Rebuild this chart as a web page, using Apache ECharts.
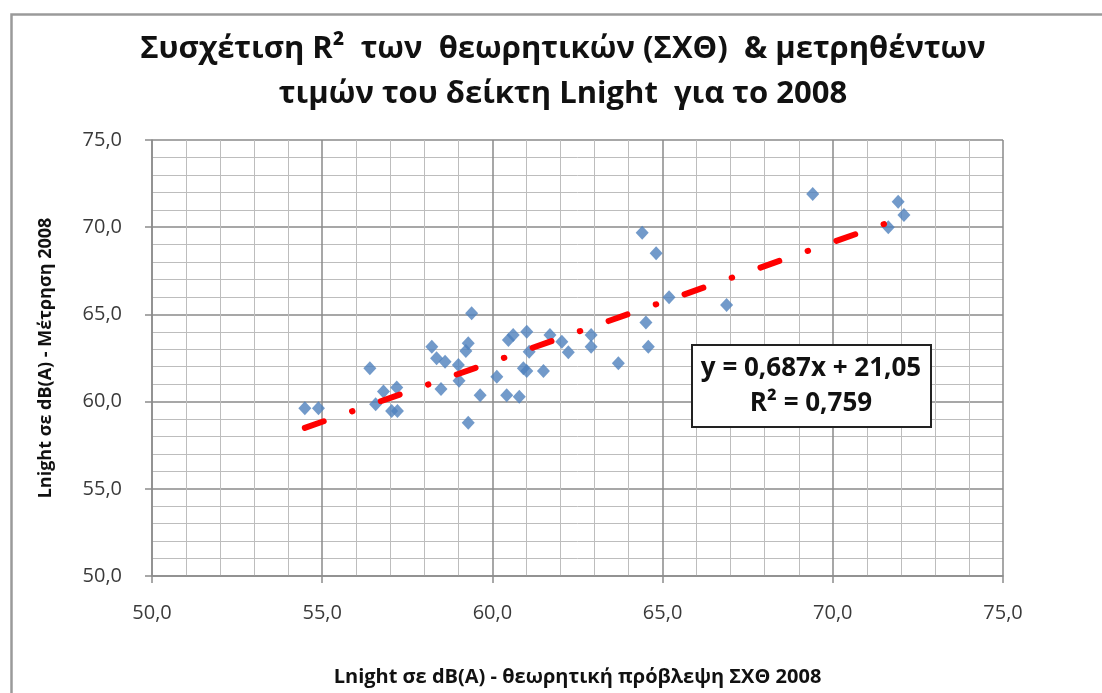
<!DOCTYPE html>
<html>
<head>
<meta charset="utf-8">
<script src="https://cdn.jsdelivr.net/npm/echarts@6/dist/echarts.min.js"></script>
<style>
html,body{margin:0;padding:0;background:#fff;}
#c{width:1102px;height:693px;}
</style>
</head>
<body>
<div id="c"></div>
<script>
// Data
const predicted = [54.49,54.89,56.40,56.57,56.80,57.04,57.21,57.19,58.22,58.36,58.61,58.49,59.00,59.02,59.29,59.22,59.39,59.29,59.64,60.13,60.42,60.79,60.47,60.61,61.01,61.08,60.91,61.01,61.50,61.69,62.04,62.23,62.90,62.90,63.70,64.40,64.81,64.51,64.58,65.19,66.88,69.41,71.63,71.92,72.09];
const measured  = [59.62,59.62,61.91,59.85,60.58,59.46,59.46,60.81,63.15,62.48,62.29,60.72,62.10,61.20,63.34,62.90,65.06,58.79,60.36,61.43,60.36,60.28,63.53,63.82,64.01,62.86,61.91,61.75,61.75,63.82,63.43,62.83,63.82,63.15,62.20,69.68,68.50,64.54,63.15,65.98,65.54,71.90,69.99,71.46,70.70];
const trendX = [54.49, 72.09];
const trendY = [58.49, 70.58];
const tickValues = [50, 55, 60, 65, 70, 75];
const titleText = 'Συσχέτιση R\u00B2  των  θεωρητικών (ΣΧΘ)  & μετρηθέντων\nτιμών του δείκτη Lnight  για το 2008';
const xTitle = 'Lnight σε dB(A) - θεωρητική πρόβλεψη ΣΧΘ 2008';
const yTitle = 'Lnight σε dB(A) - Μέτρηση 2008';
const eqLine1 = 'y = 0,687x + 21,05';
const eqLine2 = 'R\u00B2 = 0,759';

const FONT = '"Open Sans", "Noto Sans", sans-serif';
const fmt = v => v.toFixed(1).replace('.', ',');

const chart = echarts.init(document.getElementById('c'), null, {renderer: 'canvas'});

function axisCommon(name, isX) {
  return {
    type: 'value',
    min: tickValues[0],
    max: tickValues[tickValues.length - 1],
    interval: 5,
    name: name,
    nameLocation: 'middle',
    nameGap: isX ? 91 : 97,
    nameTextStyle: {fontFamily: FONT, fontSize: isX ? 20 : 18, fontWeight: 'bold', color: '#111'},
    axisLine: {show: true, onZero: false, lineStyle: {color: '#8c8c8c', width: 1.5}},
    axisTick: {show: true, inside: false, length: 7, lineStyle: {color: '#8c8c8c', width: 1.5}},
    minorTick: {show: false, splitNumber: 5},
    axisLabel: {fontFamily: FONT, fontSize: 20, color: '#3a3a3a', margin: isX ? 27 : 30, formatter: fmt},
    splitLine: {show: true, lineStyle: {color: '#8a8a8a', width: 1.5}},
    minorSplitLine: {show: true, lineStyle: {color: '#bdbdbd', width: 1}}
  };
}

const scatterData = predicted.map((x, i) => [x, measured[i]]);
const trendData = trendX.map((x, i) => [x, trendY[i]]);

chart.setOption({
  backgroundColor: '#ffffff',
  animation: false,
  title: {
    text: titleText,
    left: 558,
    top: 22,
    textAlign: 'center',
    textStyle: {fontFamily: FONT, fontSize: 31, fontWeight: 'bold', color: '#111', lineHeight: 45}
  },
  grid: {left: 152, top: 140, width: 851, height: 436, containLabel: false},
  xAxis: axisCommon(xTitle, true),
  yAxis: axisCommon(yTitle, false),
  series: [
    {
      type: 'scatter',
      data: scatterData,
      symbol: 'diamond',
      symbolSize: [13, 14],
      itemStyle: {color: '#4f81bd'},
      z: 2
    },
    {
      type: 'line',
      data: trendData,
      symbol: 'none',
      lineStyle: {color: '#ff0000', width: 6, type: [20, 30, 0.5, 30], cap: 'round'},
      z: 3
    }
  ],
  graphic: [
    {
      type: 'rect', left: 9, top: 12, z: -10, silent: true,
      shape: {width: 1120, height: 720},
      style: {fill: null, stroke: '#9a9a9a', lineWidth: 2.5}
    },
    {
      type: 'rect', left: 691, top: 344, z: 100,
      shape: {width: 239, height: 82},
      style: {fill: '#fff', stroke: '#222', lineWidth: 2}
    },
    {
      type: 'text', z: 101,
      x: 811, y: 369,
      style: {text: eqLine1, fontFamily: FONT, fontSize: 26, fontWeight: 'bold', fill: '#111', align: 'center', verticalAlign: 'middle'}
    },
    {
      type: 'text', z: 101,
      x: 811, y: 404,
      style: {text: eqLine2, fontFamily: FONT, fontSize: 26, fontWeight: 'bold', fill: '#111', align: 'center', verticalAlign: 'middle'}
    }
  ]
});
</script>
</body>
</html>
